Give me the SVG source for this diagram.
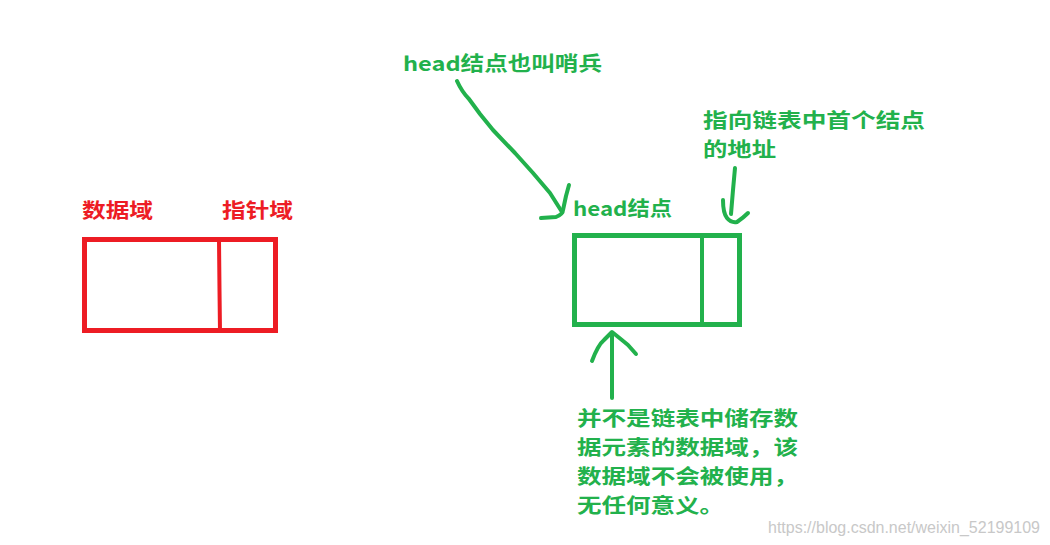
<svg xmlns="http://www.w3.org/2000/svg" width="1050" height="545" viewBox="0 0 1050 545">
<style>
.t{font-family:"Noto Sans CJK SC","Liberation Serif",serif;font-size:20px;font-weight:bold}
.r{fill:#ED1C24}
.g{fill:#22B14C}
.box{fill:none;stroke-width:5}
.pen{fill:none;stroke:#22B14C;stroke-width:4;stroke-linecap:round;stroke-linejoin:round}
.wm{font-family:"Liberation Sans",Arial,sans-serif;font-size:16px;fill:#c8c8c8}
</style>
<rect width="1050" height="545" fill="#ffffff"/>
<g id="data-node">
<rect class="box" x="84.5" y="239.5" width="191" height="91" stroke="#ED1C24"/>
<path d="M219 240 L219.5 290 L220 332" fill="none" stroke="#ED1C24" stroke-width="4"/>
<text class="t r" x="82" y="218" textLength="71" lengthAdjust="spacingAndGlyphs">数据域</text>
<text class="t r" x="222" y="218" textLength="71" lengthAdjust="spacingAndGlyphs">指针域</text>
</g>
<g id="head-node">
<rect class="box" x="574.5" y="235.5" width="165" height="89" stroke="#22B14C"/>
<line x1="702" y1="233" x2="702" y2="327" stroke="#22B14C" stroke-width="4"/>
<text class="t g" x="573" y="216" textLength="99" lengthAdjust="spacingAndGlyphs">head结点</text>
</g>
<g id="label-sentinel">
<text class="t g" x="403" y="71" textLength="199" lengthAdjust="spacingAndGlyphs">head结点也叫哨兵</text>
</g>
<g id="label-pointer">
<text class="t g" x="703" y="128" textLength="222" lengthAdjust="spacingAndGlyphs">指向链表中首个结点</text>
<text class="t g" x="703" y="157" textLength="73" lengthAdjust="spacingAndGlyphs">的地址</text>
</g>
<g id="label-data">
<text class="t g" x="577" y="426" textLength="221" lengthAdjust="spacingAndGlyphs">并不是链表中储存数</text>
<text class="t g" x="577" y="455" textLength="221" lengthAdjust="spacingAndGlyphs">据元素的数据域，该</text>
<text class="t g" x="577" y="484" textLength="221" lengthAdjust="spacingAndGlyphs">数据域不会被使用，</text>
<text class="t g" x="577" y="513" textLength="147" lengthAdjust="spacingAndGlyphs">无任何意义。</text>
</g>
<g id="connectors">
<path class="pen" d="M457 81 Q462 92 469 99 L480 114 L493 130 L515 153 L533 173 L550 193 L562 212"/>
<path class="pen" d="M541 218 L556 217 Q563 214 563 210 L566 196 L569 185"/>
<path class="pen" d="M735 168 L733 190 L731 214"/>
<path class="pen" d="M723 200 Q723 213 727 218 Q731 223 737 222 Q743 218 748 213"/>
<path class="pen" d="M612 398 L612 365 L612 333"/>
<path class="pen" d="M592 361 Q598 345 604 340 L612 332 Q622 340 628 345 L636 354"/>
</g>
<text class="wm" x="768" y="533" textLength="272" lengthAdjust="spacingAndGlyphs">https://blog.csdn.net/weixin_52199109</text>
</svg>
